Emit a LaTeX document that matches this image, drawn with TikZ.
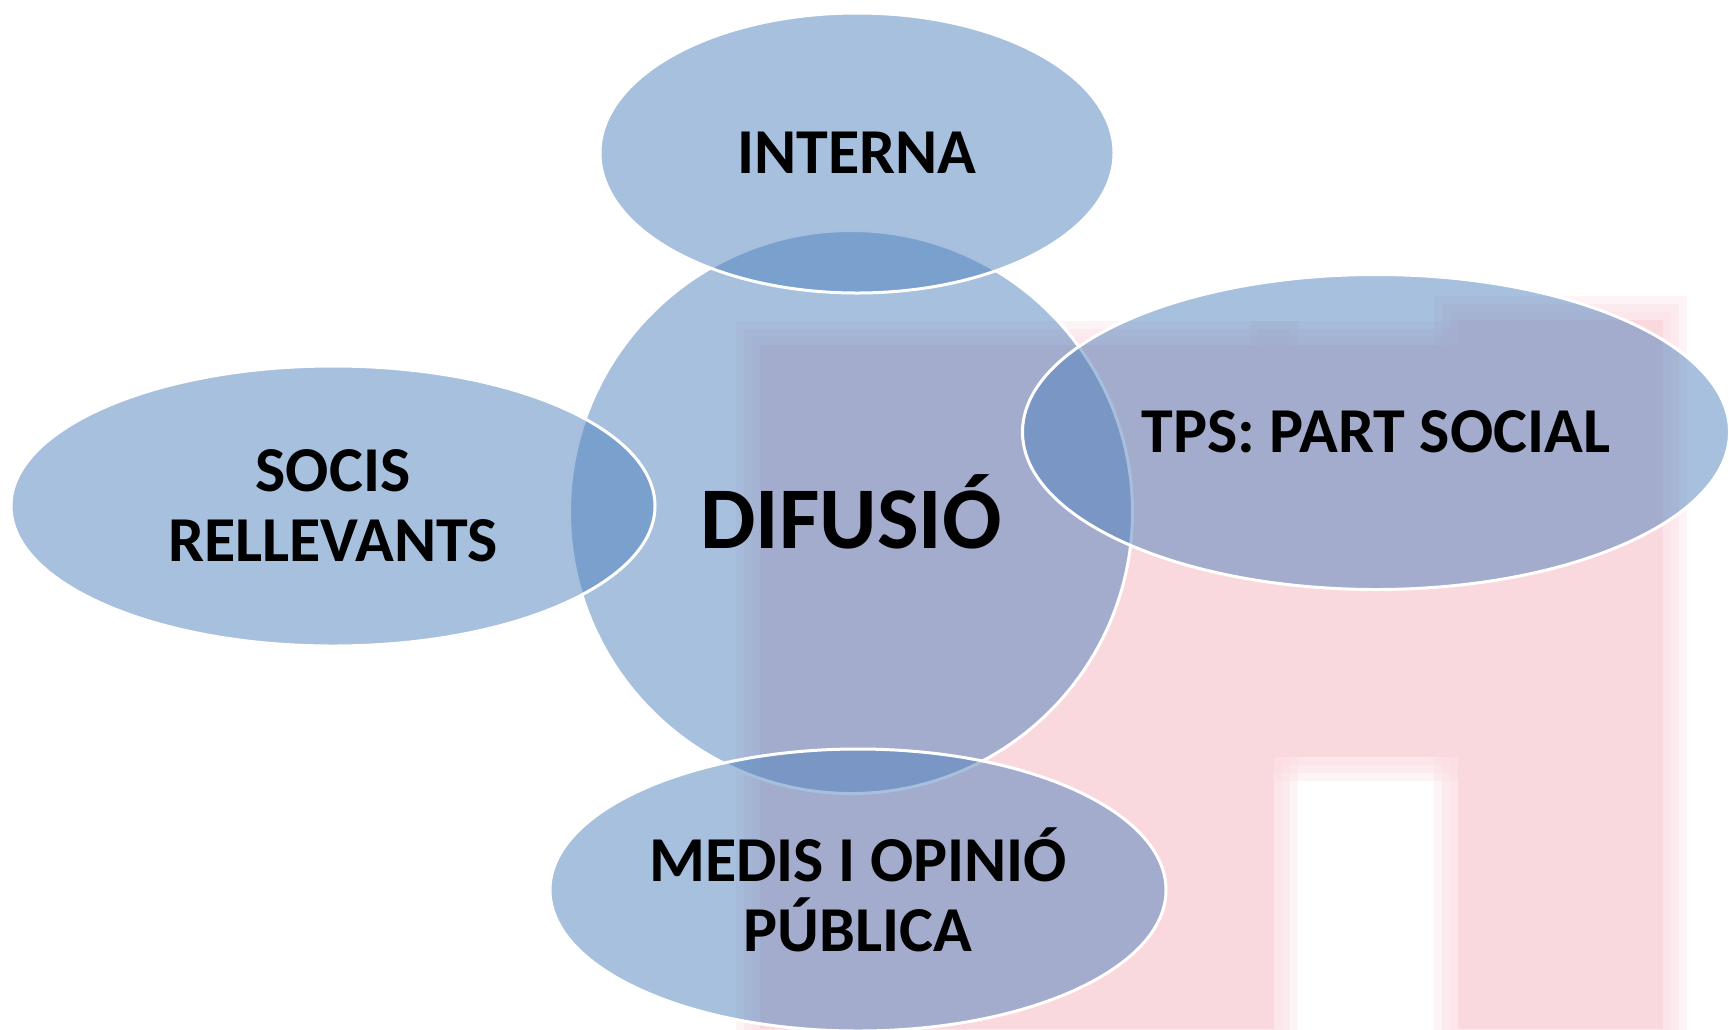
\documentclass[tikz,border=0pt]{standalone}
\usepackage{fontspec}
\setmainfont{Carlito}
\usepackage{tikz}
\usetikzlibrary{shapes.geometric}

\definecolor{bubblefill}{HTML}{4F81BD}
\definecolor{logopink}{RGB}{250,217,222}

\begin{document}
\begin{tikzpicture}[x=0.5pt,y=-0.5pt,line width=1.5pt,
  bubble/.style={ellipse,draw=white,fill=bubblefill,fill opacity=0.5,text opacity=1,
    inner sep=0pt,align=center,font=\bfseries\fontsize{32}{35}\selectfont}]
\useasboundingbox (0,0) rectangle (1729,1029);
\clip (0,0) rectangle (1729,1029);
% faded logo in the background, soft edges
\foreach \xa/\ya/\xb/\yb in {760/345/1274/1029,1274/345/1458/757,1458/320/1663/1029} {
  \foreach \d in {24,16,8}
    \fill[logopink,opacity=0.3] (\xa-\d,\ya-\d) rectangle (\xb+\d,\yb+\d);
  \fill[logopink] (\xa,\ya) rectangle (\xb,\yb);
}

\node[bubble,circle,minimum size=281.5pt,font=\bfseries\fontsize{44}{48}\selectfont] (D) at (851,512) {DIFUSIÓ};
\node[bubble,minimum width=257pt,minimum height=140pt] (I) [above of = D,node distance=179.5pt,xshift=3pt] {INTERNA};
\node[bubble,minimum width=322pt,minimum height=140pt] (S) [left of = D,node distance=259pt,yshift=3pt] {SOCIS\\RELLEVANTS};
\node[bubble,minimum width=353.5pt,minimum height=157.5pt] (T) [right of = D,node distance=262.5pt,yshift=40pt] {TPS: PART SOCIAL};
\node[bubble,minimum width=308pt,minimum height=141pt] (M) [below of = D,node distance=189pt,xshift=3.5pt] {MEDIS I OPINIÓ\\PÚBLICA};

\end{tikzpicture}
\end{document}
